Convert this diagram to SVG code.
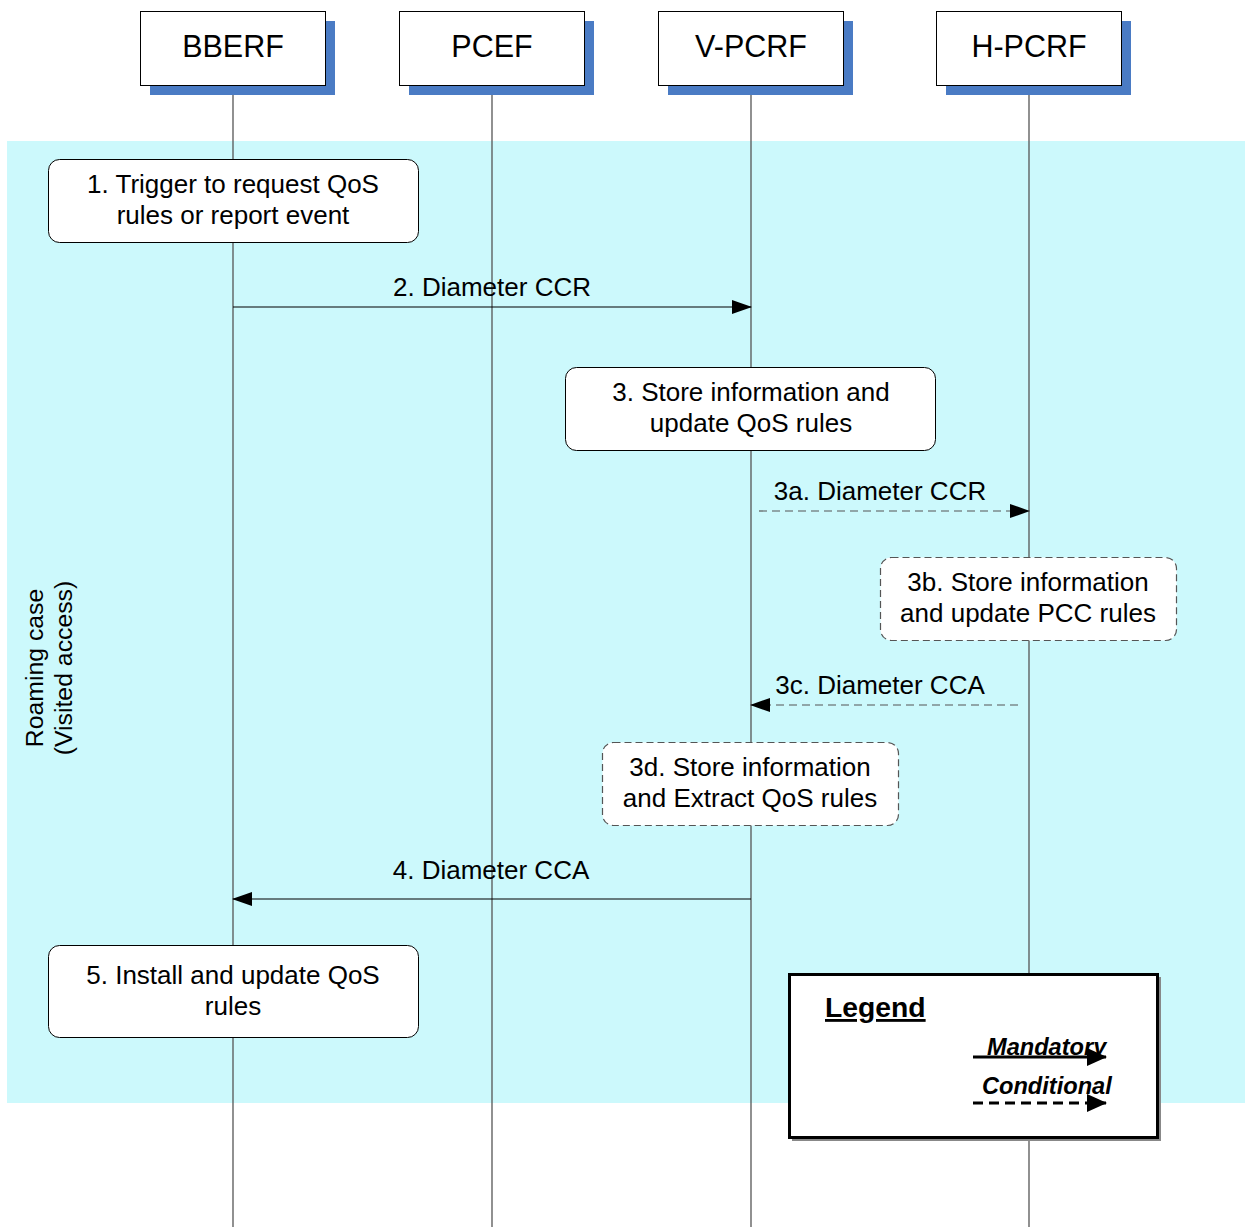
<svg xmlns="http://www.w3.org/2000/svg" width="1245" height="1227" viewBox="0 0 1245 1227">
<defs>
<style>
text{font-family:"Liberation Sans",Arial,sans-serif;fill:#000}
.hdr{font-size:30.5px;text-anchor:middle}
.lbl{font-size:26px;text-anchor:middle}
.shadow{fill:#4a7bc4}
.head{fill:#fff;stroke:#000;stroke-width:1}
.life{stroke:#555;stroke-width:1.3;fill:none}
.box{fill:#fff;stroke:#000;stroke-width:1}
.dbox{fill:#fff;stroke:#555;stroke-width:1.2;stroke-dasharray:7 4}
.msg{stroke:#000;stroke-width:1.2;fill:none}
.dmsg{stroke:#555;stroke-width:1.2;fill:none;stroke-dasharray:8 5}
</style>
<marker id="ah" markerWidth="20" markerHeight="14" refX="19" refY="7" orient="auto" markerUnits="userSpaceOnUse">
<path d="M0,0 L20,7 L0,14 Z" fill="#000"/>
</marker>
<marker id="lah" markerWidth="20" markerHeight="18" refX="19" refY="9" orient="auto" markerUnits="userSpaceOnUse">
<path d="M0,0 L20,9 L0,18 Z" fill="#000"/>
</marker>
</defs>
<rect x="0" y="0" width="1245" height="1227" fill="#fff"/>
<rect id="region" x="7" y="141" width="1238" height="962" fill="#ccf9fc"/>
<text transform="translate(43,668) rotate(-90)" style="font-size:24.8px;text-anchor:middle">Roaming case</text>
<text transform="translate(72,668) rotate(-90)" style="font-size:24.8px;text-anchor:middle">(Visited access)</text>

<g id="lifelines">
<line class="life" x1="233" y1="85" x2="233" y2="1227"/>
<line class="life" x1="492" y1="85" x2="492" y2="1227"/>
<line class="life" x1="751" y1="85" x2="751" y2="1227"/>
<line class="life" x1="1029" y1="85" x2="1029" y2="1227"/>
</g>

<g id="BBERF"><rect class="shadow" x="150" y="21" width="185" height="74"/><rect class="head" x="140.5" y="11.5" width="185" height="74"/><text class="hdr" x="233" y="57">BBERF</text></g>
<g id="PCEF"><rect class="shadow" x="409" y="21" width="185" height="74"/><rect class="head" x="399.5" y="11.5" width="185" height="74"/><text class="hdr" x="492" y="57">PCEF</text></g>
<g id="V-PCRF"><rect class="shadow" x="668" y="21" width="185" height="74"/><rect class="head" x="658.5" y="11.5" width="185" height="74"/><text class="hdr" x="751" y="57">V-PCRF</text></g>
<g id="H-PCRF"><rect class="shadow" x="946" y="21" width="185" height="74"/><rect class="head" x="936.5" y="11.5" width="185" height="74"/><text class="hdr" x="1029" y="57">H-PCRF</text></g>

<g id="connectors">
<line class="msg" x1="233" y1="307" x2="751" y2="307" marker-end="url(#ah)"/>
<line class="dmsg" x1="759" y1="511" x2="1029" y2="511" marker-end="url(#ah)"/>
<line class="dmsg" x1="1018" y1="705" x2="751" y2="705" marker-end="url(#ah)"/>
<line class="msg" x1="751" y1="899" x2="233" y2="899" marker-end="url(#ah)"/>
<text class="lbl" x="492" y="296">2. Diameter CCR</text>
<text class="lbl" x="880" y="500">3a. Diameter CCR</text>
<text class="lbl" x="880" y="694">3c. Diameter CCA</text>
<text class="lbl" x="491" y="879">4. Diameter CCA</text>
</g>

<g id="step1"><rect class="box" x="48.5" y="159.5" width="370" height="83" rx="11"/><text class="lbl" x="233" y="193">1. Trigger to request QoS</text><text class="lbl" x="233" y="224">rules or report event</text></g>
<g id="step3"><rect class="box" x="565.5" y="367.5" width="370" height="83" rx="11"/><text class="lbl" x="751" y="401">3. Store information and</text><text class="lbl" x="751" y="432">update QoS rules</text></g>
<g id="step3b"><rect class="dbox" x="880.5" y="557.5" width="296" height="83" rx="11"/><text class="lbl" x="1028" y="591">3b. Store information</text><text class="lbl" x="1028" y="622">and update PCC rules</text></g>
<g id="step3d"><rect class="dbox" x="602.5" y="742.5" width="296" height="83" rx="11"/><text class="lbl" x="750" y="776">3d. Store information</text><text class="lbl" x="750" y="807">and Extract QoS rules</text></g>
<g id="step5"><rect class="box" x="48.5" y="945.5" width="370" height="92" rx="11"/><text class="lbl" x="233" y="984">5. Install and update QoS</text><text class="lbl" x="233" y="1015">rules</text></g>

<g id="legend">
<rect x="792" y="977" width="369" height="164" fill="#888"/>
<rect x="789.5" y="974.5" width="368" height="163" fill="#fff" stroke="#000" stroke-width="3"/>
<text x="825" y="1017" style="font-size:28.3px;font-weight:bold;text-decoration:underline">Legend</text>
<text x="987" y="1055" style="font-size:23.6px;font-weight:bold;font-style:italic">Mandatory</text>
<line x1="973" y1="1057" x2="1106" y2="1057" stroke="#000" stroke-width="3" marker-end="url(#lah)"/>
<text x="982" y="1094" style="font-size:23.6px;font-weight:bold;font-style:italic">Conditional</text>
<line x1="973" y1="1103" x2="1106" y2="1103" stroke="#000" stroke-width="3" stroke-dasharray="10 6" marker-end="url(#lah)"/>
</g>
</svg>
